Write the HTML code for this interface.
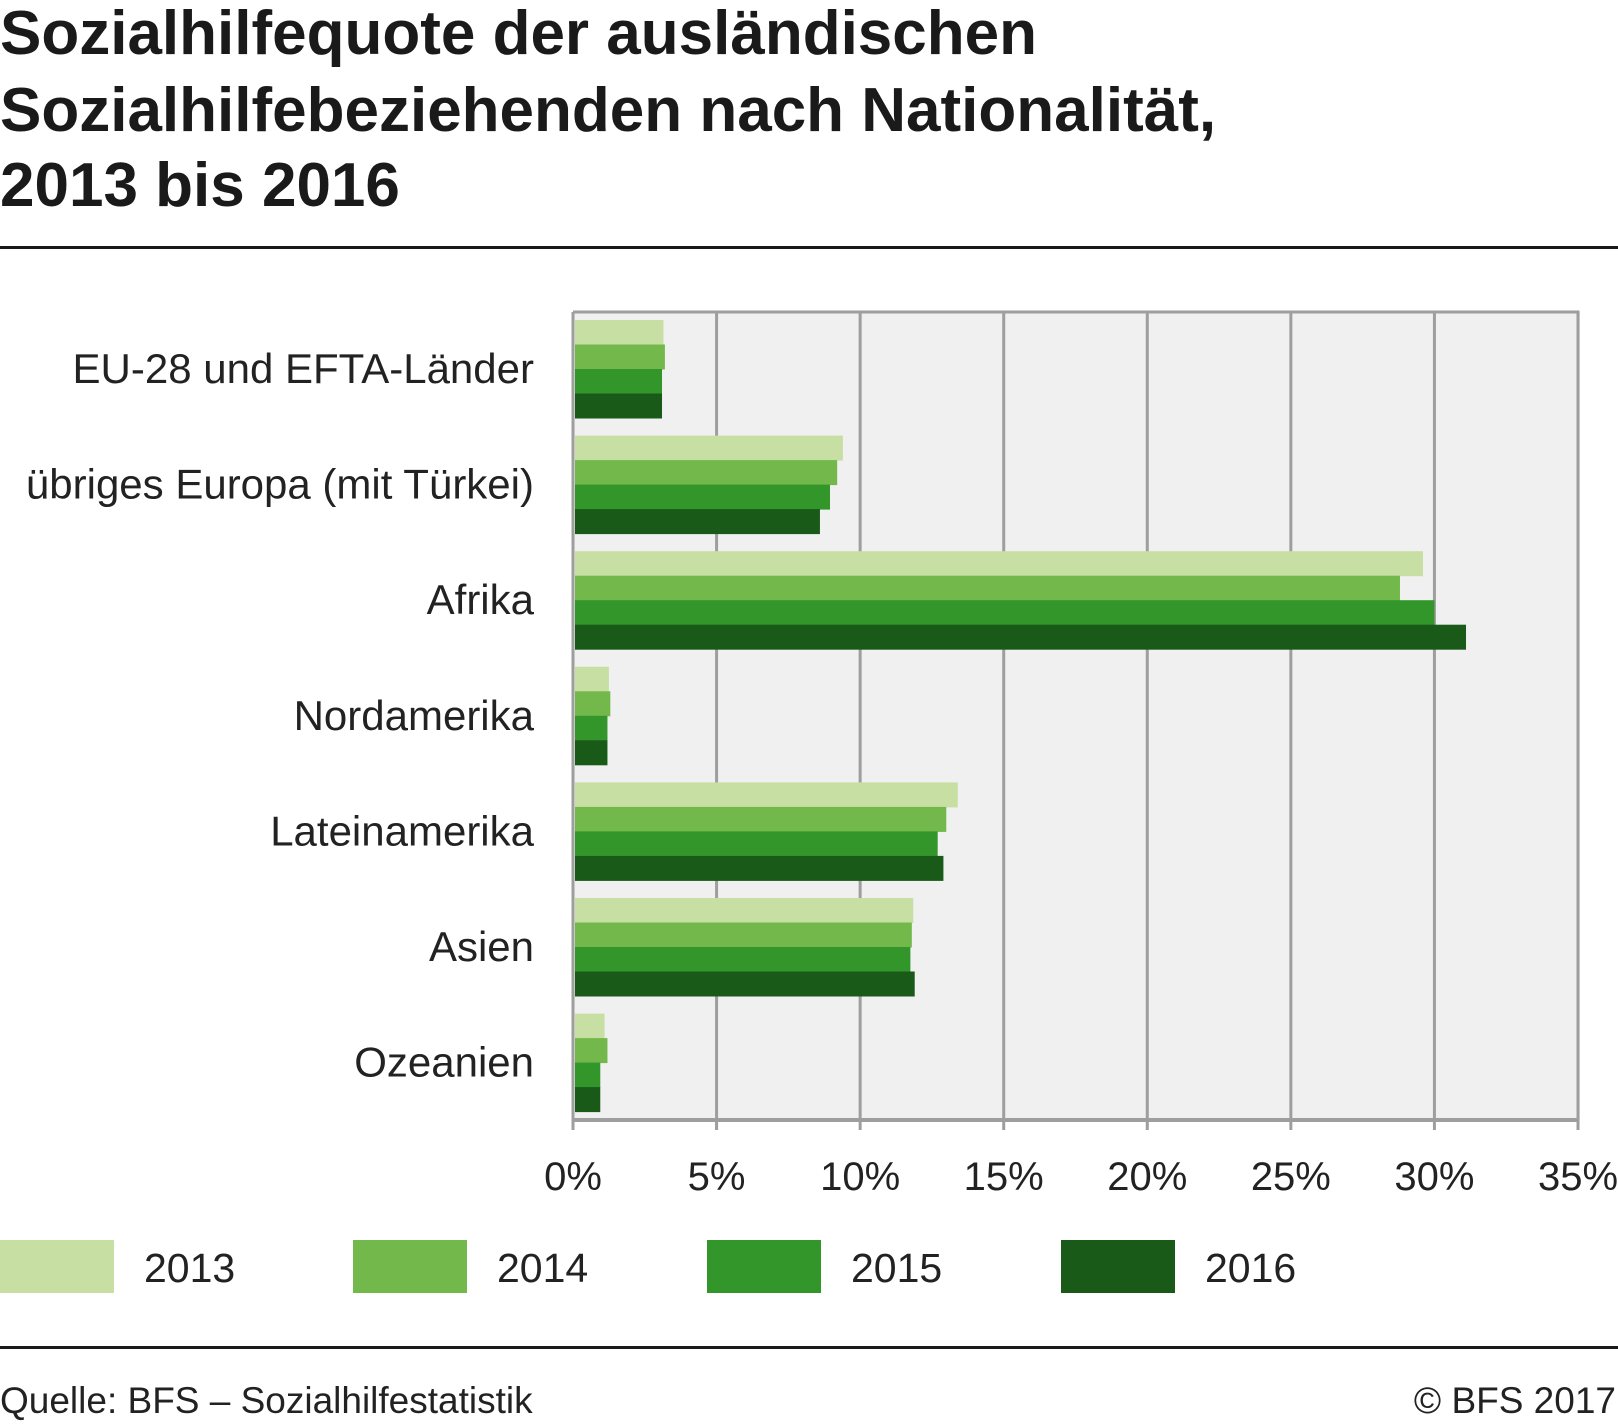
<!DOCTYPE html>
<html><head><meta charset="utf-8"><style>
body{margin:0;background:#fff;}
svg{display:block;font-family:"Liberation Sans",sans-serif;}
</style></head><body>
<svg id="chart" width="1618" height="1424" viewBox="0 0 1618 1424">
<g font-weight="bold" font-size="62" fill="#1a1a1a">
<text x="0" y="54">Sozialhilfequote der ausländischen</text>
<text x="0" y="131">Sozialhilfebeziehenden nach Nationalität,</text>
<text x="0" y="206">2013 bis 2016</text>
</g>
<rect x="0" y="246" width="1618" height="3" fill="#1a1a1a"/>
<rect x="573" y="312" width="1007" height="808" fill="#f0f0f0"/>
<g id="grid"></g><g id="bars"></g><g id="cats"></g><g id="ticks"></g><g id="legend"></g>
<rect x="0" y="1346" width="1618" height="3" fill="#1a1a1a"/>
<text x="0" y="1413" font-size="37" fill="#222">Quelle: BFS – Sozialhilfestatistik</text>
<text x="1616" y="1413" font-size="37" fill="#222" text-anchor="end">© BFS 2017</text>
</svg>
<script>
const categories=["EU-28 und EFTA-Länder","übriges Europa (mit Türkei)","Afrika","Nordamerika","Lateinamerika","Asien","Ozeanien"];
const years=["2013","2014","2015","2016"];
const v2013=[3.15,9.4,29.6,1.25,13.4,11.85,1.1];
const v2014=[3.2,9.2,28.8,1.3,13.0,11.8,1.2];
const v2015=[3.1,8.95,30.0,1.2,12.7,11.75,0.95];
const v2016=[3.1,8.6,31.1,1.2,12.9,11.9,0.95];
const tickValues=[0,5,10,15,20,25,30,35];
const colors=["#c8dfa3","#72b84a","#32962b","#195a19"];
const NS="http://www.w3.org/2000/svg";
const x0=573,x1=1578,xmax=35,plotTop=312,plotBot=1120;
const xs=v=>x0+(v/xmax)*(x1-x0);
const groupTop=320,groupPitch=115.6,barH=24.5;
function mk(t,a,p){const e=document.createElementNS(NS,t);for(const k in a)e.setAttribute(k,a[k]);p.appendChild(e);return e;}
const grid=document.getElementById('grid');
tickValues.forEach(t=>{
 const l=mk('line',{x1:xs(t),x2:xs(t),y1:plotTop,y2:plotBot+10,stroke:'#9e9e9e','stroke-width':3},grid);
 
 
 const tx=mk('text',{x:xs(t),y:1190,'font-size':40,fill:'#222','text-anchor':'middle'},document.getElementById('ticks'));
 tx.textContent=t+'%';
 
 
});
const topBorder=mk('line',{x1:x0,x2:x1+1.5,y1:plotTop,y2:plotTop,stroke:'#9e9e9e','stroke-width':3},grid);


const axisLine=mk('line',{x1:x0,x2:x1+1.5,y1:plotBot,y2:plotBot,stroke:'#9e9e9e','stroke-width':4},grid);


const series=[v2013,v2014,v2015,v2016];
const bars=document.getElementById('bars');
categories.forEach((c,i)=>{
 const gy=groupTop+i*groupPitch;
 series.forEach((s,j)=>{
  const r=mk('rect',{x:x0+2,y:gy+j*barH,width:xs(s[i])-x0-2,height:barH+0.5,fill:colors[j]},bars);
  
  
 });
 const t=mk('text',{x:534,y:gy+2*barH+14,'font-size':42,fill:'#222','text-anchor':'end'},document.getElementById('cats'));
 t.textContent=c;
 
 
});
const lg=document.getElementById('legend');
const lx=[0,353,707,1061];
years.forEach((y,j)=>{
 const r=mk('rect',{x:lx[j],y:1240,width:114,height:53,fill:colors[j]},lg);
 
 
 const t=mk('text',{x:lx[j]+144,y:1282,'font-size':41,fill:'#222'},lg);
 t.textContent=y;
 
 
});
</script>
</body></html>
